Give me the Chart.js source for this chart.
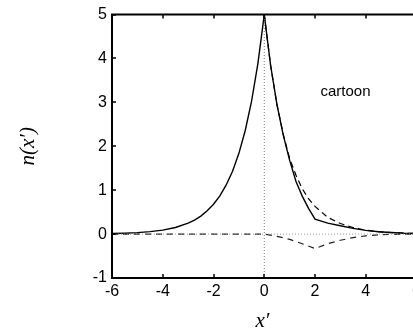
<!DOCTYPE html>
<html>
<head>
<meta charset="utf-8">
<script src="https://cdn.jsdelivr.net/npm/chart.js@4/dist/chart.umd.min.js"></script>
<style>
  html, body { margin: 0; padding: 0; background: #fff; overflow: hidden; }
  canvas { display: block; }
</style>
</head>
<body>
<canvas id="myChart" width="413" height="336"></canvas>
<script>
// x positions and readings
const xLeft = [-6, -5.5, -5, -4.5, -4, -3.5, -3, -2.75, -2.5, -2.25, -2, -1.75, -1.5, -1.25, -1, -0.75, -0.5, -0.25, 0];
const nLeft = [0.012, 0.02, 0.034, 0.056, 0.09, 0.15, 0.25, 0.32, 0.41, 0.53, 0.68, 0.87, 1.12, 1.43, 1.84, 2.36, 3.03, 3.89, 5];

const xRight = [0, 0.25, 0.5, 0.75, 1, 1.25, 1.5, 1.75, 2, 2.5, 3, 3.5, 4, 4.5, 5, 5.5, 6];
const nSolidRight = [5, 3.84, 2.95, 2.25, 1.68, 1.2, 0.86, 0.58, 0.34, 0.25, 0.19, 0.13, 0.085, 0.055, 0.035, 0.02, 0.012];
const nDashedRight = [5, 3.84, 2.95, 2.27, 1.72, 1.34, 1.03, 0.8, 0.63, 0.38, 0.24, 0.15, 0.09, 0.055, 0.033, 0.02, 0.012];

const xDiff = [-6, -4, -2, 0, 0.5, 1, 1.5, 2, 2.5, 3, 3.5, 4, 4.5, 5, 6];
const nDiff = [0, 0, 0, 0, -0.05, -0.12, -0.22, -0.33, -0.22, -0.14, -0.08, -0.04, -0.015, -0.005, 0];

// the original figure runs to x=6 but is cut off just before it
const xMin = -6, xVisibleMax = 5.86;
const xTicks = [-6, -4, -2, 0, 2, 4, 6];
const yTicks = [-1, 0, 1, 2, 3, 4, 5];
const noteText = "cartoon";
const noteAt = [3.2, 3.24];

function pts(xs, ys) {
    return xs.map((x, i) => ({ x: x, y: ys[i] }));
}

const tickFont = { family: '"Liberation Sans", Arial, sans-serif', size: 16 };
const titleFont = { family: '"Liberation Serif", "DejaVu Serif", serif', size: 21, style: 'italic' };

// frame with inward ticks, the cut-off last tick label and the note
const framePlugin = {
    id: 'frame',
    afterDraw(chart) {
        const ctx = chart.ctx;
        const a = chart.chartArea;
        const sx = chart.scales.x, sy = chart.scales.y;
        ctx.save();
        ctx.strokeStyle = '#000';
        ctx.lineWidth = 2;
        ctx.beginPath();
        ctx.moveTo(a.right, a.top);
        ctx.lineTo(a.left, a.top);
        ctx.lineTo(a.left, a.bottom);
        ctx.lineTo(a.right, a.bottom);
        ctx.stroke();
        ctx.lineWidth = 1.5;
        ctx.beginPath();
        xTicks.filter(v => v <= xVisibleMax).forEach(v => {
            const px = Math.round(sx.getPixelForValue(v));
            ctx.moveTo(px, a.bottom);
            ctx.lineTo(px, a.bottom - 4);
            ctx.moveTo(px, a.top);
            ctx.lineTo(px, a.top + 4);
        });
        yTicks.forEach(v => {
            const py = Math.round(sy.getPixelForValue(v));
            ctx.moveTo(a.left, py);
            ctx.lineTo(a.left + 4, py);
        });
        ctx.stroke();
        ctx.fillStyle = '#000';
        ctx.textAlign = 'center';
        ctx.textBaseline = 'middle';
        ctx.font = tickFont.size + 'px ' + tickFont.family;
        xTicks.filter(v => v > xVisibleMax).forEach(v => {
            ctx.fillText(String(v), sx.getPixelForValue(v), a.bottom + 4 + tickFont.size * 0.6);
        });
        ctx.font = '15px "Liberation Sans", Arial, sans-serif';
        ctx.fillText(noteText, sx.getPixelForValue(noteAt[0]), sy.getPixelForValue(noteAt[1]));
        ctx.restore();
    }
};

const data = {
    datasets: [
        {
            label: 'zero',
            data: [{ x: -6, y: 0 }, { x: 6, y: 0 }],
            borderColor: '#999',
            borderWidth: 1,
            borderDash: [1, 2],
        },
        {
            label: 'axis0',
            data: [{ x: 0, y: -1 }, { x: 0, y: 5 }],
            borderColor: '#777',
            borderWidth: 1,
            borderDash: [1, 2],
        },
        {
            label: 'diff',
            data: pts(xDiff, nDiff),
            borderColor: '#222',
            borderWidth: 1.2,
            borderDash: [6, 5],
        },
        {
            label: 'dashed',
            data: pts(xRight, nDashedRight),
            borderColor: '#000',
            borderWidth: 1.2,
            borderDash: [6, 4],
        },
        {
            label: 'left',
            data: pts(xLeft, nLeft),
            borderColor: '#000',
            borderWidth: 1.4,
        },
        {
            label: 'solid',
            data: pts(xRight, nSolidRight),
            borderColor: '#000',
            borderWidth: 1.4,
        }
    ]
};

const config = {
    type: 'line',
    data: data,
    options: {
        responsive: false,
        animation: false,
        layout: { padding: { top: 11, right: 0, left: 0, bottom: 0 } },
        elements: { point: { radius: 0 }, line: { tension: 0, fill: false } },
        plugins: { legend: { display: false }, tooltip: { enabled: false } },
        scales: {
            x: {
                type: 'linear',
                min: xMin,
                max: xVisibleMax,
                afterBuildTicks(s) { s.ticks = xTicks.filter(v => v <= xVisibleMax).map(v => ({ value: v })); },
                afterFit(s) { s.height = 58; },
                grid: { display: false, drawTicks: false },
                border: { display: false },
                ticks: { color: '#000', font: tickFont, padding: 4, maxRotation: 0, autoSkip: false },
                title: { display: true, text: 'x\u2032', color: '#000', font: titleFont, padding: { top: 0, bottom: 2 } }
            },
            y: {
                type: 'linear',
                min: -1,
                max: 5,
                afterBuildTicks(s) { s.ticks = yTicks.map(v => ({ value: v })); },
                afterFit(s) { s.width = 112; },
                grid: { display: false, drawTicks: false },
                border: { display: false },
                ticks: { color: '#000', font: tickFont, padding: 5 },
                title: { display: true, text: 'n(x\u2032)', color: '#000', font: titleFont, padding: { top: 16, bottom: 0 } }
            }
        }
    },
    plugins: [framePlugin]
};

const myChart = new Chart(document.getElementById('myChart'), config);
</script>
</body>
</html>
